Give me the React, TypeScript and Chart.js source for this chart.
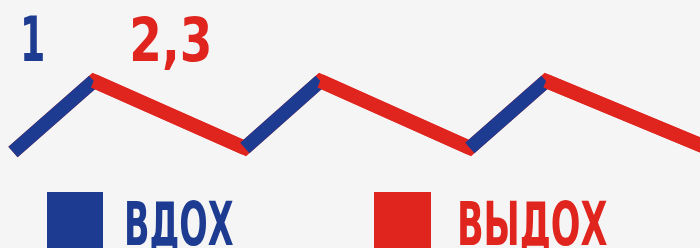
import React, { useEffect, useRef } from "react";
import { Chart, registerables } from "chart.js";

Chart.register(...registerables);

// Breathing cycle: time (relative units) and level (0 = out, 1 = in)
const times = [0, 1.07, 3.07, 4.07, 6.05, 7.06, 9.2];
const levels = [-0.06, 1, 0, 1, 0, 1, 0];
const legendLabels = ["ВДОХ", "ВЫДОХ"];
const phaseLabels = ["1", "2,3"];

const BLUE = "#1d3c91";
const RED = "#e0251f";
const BG = "#f5f5f5";

function fitText(
  ctx: CanvasRenderingContext2D,
  text: string,
  x0: number,
  x1: number,
  top: number,
  baseline: number,
  color: string
) {
  ctx.save();
  ctx.font = 'bold 100px "Liberation Sans Narrow", "DejaVu Sans Condensed", "Liberation Sans", sans-serif';
  ctx.textAlign = "left";
  ctx.textBaseline = "alphabetic";
  const m = ctx.measureText(text);
  const inkLeft = -m.actualBoundingBoxLeft;
  const inkRight = m.actualBoundingBoxRight;
  const asc = m.actualBoundingBoxAscent;
  const sx = (x1 - x0) / (inkRight - inkLeft);
  const sy = (baseline - top) / asc;
  ctx.translate(x0 - inkLeft * sx, baseline);
  ctx.scale(sx, sy);
  ctx.fillStyle = color;
  ctx.fillText(text, 0, 0);
  ctx.restore();
}

const bgPlugin = {
  id: "bg",
  beforeDraw(chart: any) {
    const { ctx, width, height } = chart;
    ctx.save();
    ctx.fillStyle = BG;
    ctx.fillRect(0, 0, width, height);
    ctx.restore();
  },
};

const labelsPlugin = {
  id: "labels",
  afterDraw(chart: any) {
    const ctx = chart.ctx as CanvasRenderingContext2D;
    // phase labels
    fitText(ctx, phaseLabels[0], 24, 43, 15, 61, BLUE);
    fitText(ctx, phaseLabels[1], 133, 209, 15, 61, RED);
    // legend
    ctx.save();
    ctx.fillStyle = BLUE;
    ctx.fillRect(47, 192, 56, 56);
    ctx.fillStyle = RED;
    ctx.fillRect(374, 192, 57, 56);
    ctx.restore();
    fitText(ctx, legendLabels[0], 127, 233, 200, 245, BLUE);
    fitText(ctx, legendLabels[1], 460, 607, 200, 245, RED);
  },
};

export default function App() {
  const ref = useRef<HTMLCanvasElement | null>(null);

  useEffect(() => {
    document.body.style.margin = "0";
    document.body.style.background = BG;
    const canvas = ref.current;
    if (!canvas) return;
    const pts = times.map((t, i) => ({ x: t, y: levels[i] }));
    const chart = new Chart(canvas, {
      type: "line",
      data: {
        datasets: [
          {
            label: "base",
            data: pts,
            borderColor: RED,
            borderWidth: 14,
            borderJoinStyle: "miter",
            borderCapStyle: "butt",
            pointRadius: 0,
            tension: 0,
            order: 2,
          },
          {
            label: "phases",
            data: pts,
            borderColor: RED,
            borderWidth: 14,
            borderJoinStyle: "miter",
            borderCapStyle: "butt",
            pointRadius: 0,
            tension: 0,
            order: 1,
            segment: {
              borderColor: (c: any) => (c.p1.parsed.y > c.p0.parsed.y ? BLUE : RED),
            },
          },
        ],
      },
      options: {
        responsive: false,
        animation: false,
        events: [],
        layout: { padding: 0 },
        plugins: {
          legend: { display: false },
          tooltip: { enabled: false },
          title: { display: false },
        },
        scales: {
          x: { type: "linear", min: -0.172, max: 9.099, display: false },
          y: { type: "linear", min: -1.493, max: 2.209, display: false },
        },
      } as any,
      plugins: [bgPlugin, labelsPlugin],
    });
    return () => chart.destroy();
  }, []);

  return (
    <div style={{ width: 700, height: 248 }}>
      <canvas ref={ref} width={700} height={248} style={{ display: "block" }} />
    </div>
  );
}
